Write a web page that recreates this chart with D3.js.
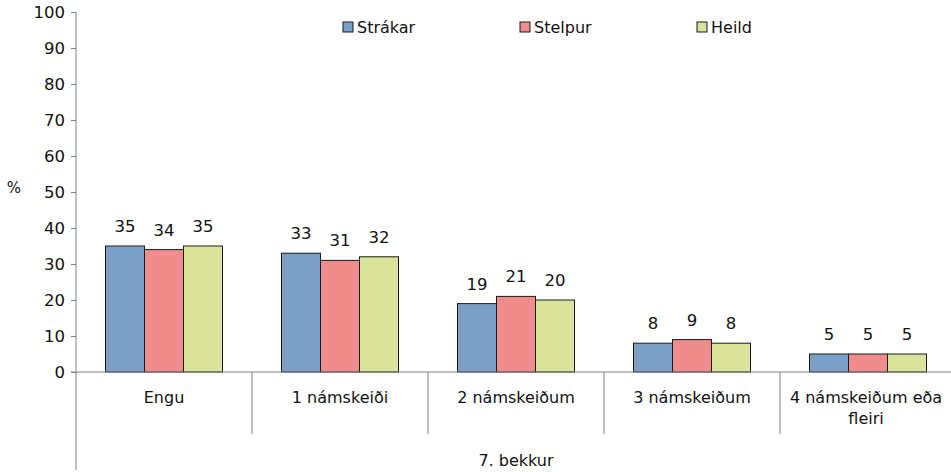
<!DOCTYPE html>
<html><head><meta charset="utf-8">
<script src="https://cdn.jsdelivr.net/npm/d3@7"></script>
<style>body{margin:0;background:#fff}svg{display:block;font-family:"DejaVu Sans",sans-serif}</style>
</head><body><svg id="c" width="951" height="472"></svg>
<script>
const categories = ["Engu", "1 námskeiði", "2 námskeiðum", "3 námskeiðum", "4 námskeiðum eða fleiri"];
const seriesNames = ["Strákar", "Stelpur", "Heild"];
const strakar = [35, 33, 19, 8, 5];
const stelpur = [34, 31, 21, 9, 5];
const heild = [35, 32, 20, 8, 5];
const colors = ["#7BA0C8", "#F08C8C", "#DAE39A"];
const yTicks = [0,10,20,30,40,50,60,70,80,90,100];
const groupLabel = "7. bekkur";

(function(){
const series = [strakar, stelpur, heild];
const svg = d3.select("#c");
const pLeft = 76, pTop = 12, pBottom = 372, pRight = 956;
const y = d3.scaleLinear().domain([0,100]).range([pBottom, pTop]);
const x = d3.scaleBand().domain(categories).range([pLeft, pRight]).paddingInner(0).paddingOuter(0);
const xs = d3.scaleBand().domain(seriesNames).range([0, 117]);
const font = 16;
const txt = "#111";

// y axis
const yAxis = d3.axisLeft(y).tickValues(yTicks).tickSize(5).tickPadding(6);
const ga = svg.append("g").attr("transform", `translate(${pLeft},0)`).call(yAxis);
ga.select(".domain").remove();
ga.selectAll("line").attr("stroke", "#808080");
ga.selectAll("text").attr("font-size", 16.5).attr("fill", txt).attr("font-family", '"DejaVu Sans",sans-serif');
svg.append("line").attr("x1", pLeft).attr("x2", pLeft).attr("y1", pTop).attr("y2", 470).attr("stroke", "#808080");
svg.append("text").attr("x", 14).attr("y", 193).attr("text-anchor", "middle").attr("font-size", 15).attr("fill", txt).text("%");

// bars
categories.forEach((c, i) => {
  const gx = x(c) + (x.bandwidth() - 117) / 2;
  series.forEach((s, j) => {
    const bx = gx + xs(seriesNames[j]);
    svg.append("rect").attr("x", bx).attr("y", y(s[i])).attr("width", xs.bandwidth()).attr("height", y(0) - y(s[i]))
      .attr("fill", colors[j]).attr("stroke", "#1a1a1a").attr("stroke-width", 1);
    svg.append("text").attr("x", bx + xs.bandwidth() / 2).attr("y", y(s[i]) - 14).attr("text-anchor", "middle")
      .attr("font-size", 16.5).attr("fill", txt).text(s[i]);
  });
});

// x axis
svg.append("line").attr("x1", pLeft - 5).attr("x2", 951).attr("y1", pBottom).attr("y2", pBottom).attr("stroke", "#808080");
categories.forEach((c, i) => {
  if (i > 0) svg.append("line").attr("x1", x(c)).attr("x2", x(c)).attr("y1", pBottom).attr("y2", 434).attr("stroke", "#808080");
  const cx = x(c) + x.bandwidth() / 2;
  const t = svg.append("text").attr("text-anchor", "middle").attr("font-size", font).attr("fill", txt);
  if (c === "4 námskeiðum eða fleiri") {
    t.append("tspan").attr("x", cx - 2).attr("y", 403).text("4 námskeiðum eða");
    t.append("tspan").attr("x", cx - 2).attr("y", 424).text("fleiri");
  } else {
    t.attr("x", cx).attr("y", 403).text(c);
  }
});
svg.append("text").attr("x", (pLeft + pRight) / 2).attr("y", 466).attr("text-anchor", "middle").attr("font-size", font).attr("fill", txt).text(groupLabel);

// legend
const legX = [343, 520, 697];
seriesNames.forEach((n, j) => {
  svg.append("rect").attr("x", legX[j]).attr("y", 22).attr("width", 10).attr("height", 10).attr("fill", colors[j]).attr("stroke", "#1a1a1a");
  svg.append("text").attr("x", legX[j] + 14).attr("y", 33).attr("font-size", font).attr("fill", txt).text(n);
});
})();
</script></body></html>
